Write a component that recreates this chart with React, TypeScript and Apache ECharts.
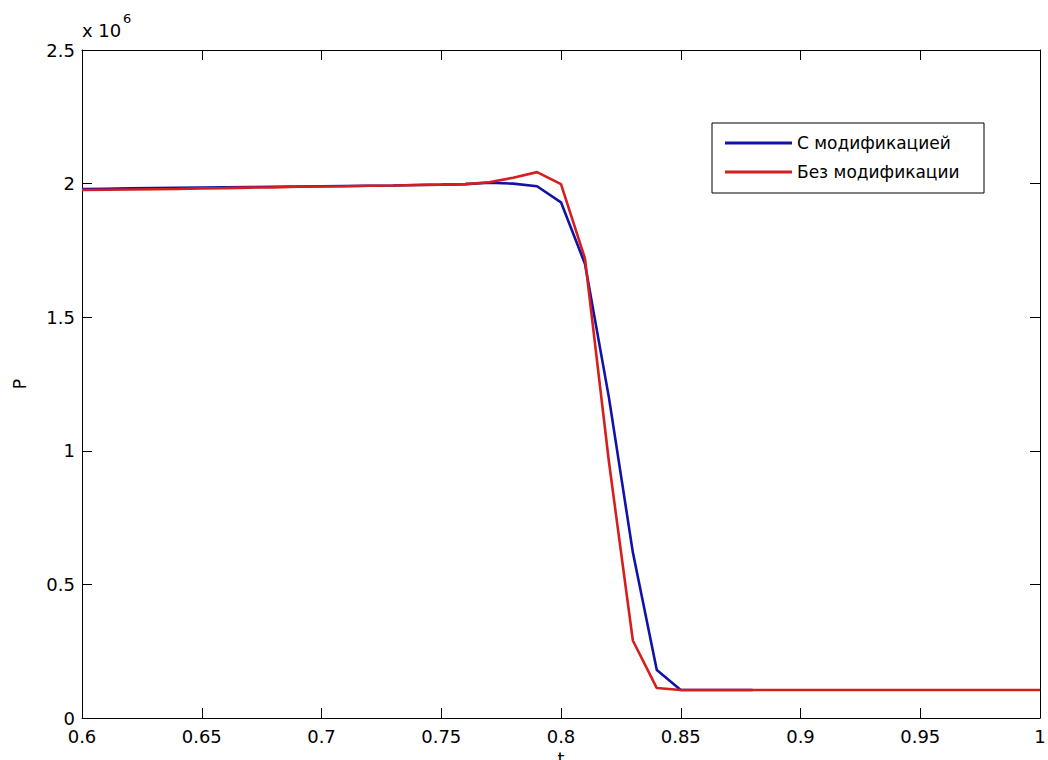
import React, { useEffect, useRef } from "react";
import * as echarts from "echarts";

const tValues = [
  0.6, 0.61, 0.62, 0.63, 0.64, 0.65, 0.66, 0.67, 0.68, 0.69,
  0.7, 0.71, 0.72, 0.73, 0.74, 0.75, 0.76, 0.77, 0.78, 0.79,
  0.8, 0.81, 0.82, 0.83, 0.84, 0.85, 0.86, 0.87, 0.88, 0.89,
  0.9, 0.91, 0.92, 0.93, 0.94, 0.95, 0.96, 0.97, 0.98, 0.99, 1.0,
];

// "С модификацией" (ends at t = 0.88)
const withModification = [
  1.980e6, 1.981e6, 1.982e6, 1.983e6, 1.984e6, 1.985e6, 1.986e6, 1.987e6, 1.988e6, 1.989e6,
  1.990e6, 1.991e6, 1.992e6, 1.993e6, 1.995e6, 1.996e6, 1.998e6, 2.003e6, 2.000e6, 1.990e6,
  1.930e6, 1.700e6, 1.200e6, 0.620e6, 0.180e6, 0.105e6, 0.105e6, 0.105e6, 0.105e6,
];

// "Без модификации"
const withoutModification = [
  1.976e6, 1.977e6, 1.978e6, 1.979e6, 1.980e6, 1.982e6, 1.983e6, 1.985e6, 1.986e6, 1.988e6,
  1.989e6, 1.990e6, 1.992e6, 1.993e6, 1.995e6, 1.996e6, 1.998e6, 2.005e6, 2.022e6, 2.043e6,
  1.998e6, 1.720e6, 0.960e6, 0.290e6, 0.112e6, 0.105e6, 0.105e6, 0.105e6, 0.105e6, 0.105e6,
  0.105e6, 0.105e6, 0.105e6, 0.105e6, 0.105e6, 0.105e6, 0.105e6, 0.105e6, 0.105e6, 0.105e6, 0.105e6,
];

const seriesNames = ["С модификацией", "Без модификации"];
const yTickScale = 1e6;

const FONT = "'DejaVu Sans', 'Liberation Sans', Arial, sans-serif";

export default function App() {
  const ref = useRef<HTMLDivElement>(null);

  useEffect(() => {
    if (!ref.current) return;
    const chart = echarts.init(ref.current, null, { renderer: "svg" });

    const blueData = withModification.map((v, i) => [tValues[i], v]);
    const redData = withoutModification.map((v, i) => [tValues[i], v]);

    const axisCommon = {
      axisLine: { show: true, onZero: false, lineStyle: { color: "#000", width: 1 } },
      axisTick: { show: true, inside: true, length: 10, lineStyle: { color: "#000" } },
      splitLine: { show: false },
    };

    chart.setOption({
      animation: false,
      backgroundColor: "#fff",
      grid: {
        left: 82,
        right: 8,
        top: 50,
        bottom: 42,
        containLabel: false,
        outerBoundsMode: "none",
      },
      textStyle: { fontFamily: FONT },
      legend: {
        orient: "vertical",
        left: 712,
        top: 123,
        padding: [10, 10, 11, 13],
        itemGap: 9,
        itemWidth: 67,
        itemHeight: 3,
        icon: "rect",
        backgroundColor: "#fff",
        borderColor: "#000",
        borderWidth: 1,
        borderRadius: 0,
        data: seriesNames,
        textStyle: { fontSize: 17, color: "#000", fontFamily: FONT, lineHeight: 20, width: 177 },
      },
      xAxis: [
        {
          type: "value",
          min: 0.6,
          max: 1,
          interval: 0.05,
          position: "bottom",
          name: "t",
          nameLocation: "middle",
          nameGap: 31,
          nameTextStyle: { fontSize: 18, color: "#000", fontFamily: FONT },
          ...axisCommon,
          axisLabel: {
            color: "#000",
            fontSize: 18,
            lineHeight: 14,
            fontFamily: FONT,
            margin: 11,
            formatter: (v: number) => String(Math.round(v * 100) / 100),
          },
        },
        {
          type: "value",
          min: 0.6,
          max: 1,
          interval: 0.05,
          position: "top",
          ...axisCommon,
          axisLabel: { show: false },
        },
      ],
      yAxis: [
        {
          type: "value",
          min: 0,
          max: 2.5e6,
          interval: 0.5e6,
          position: "left",
          name: "P",
          nameLocation: "middle",
          nameGap: 54,
          nameRotate: 90,
          nameTextStyle: { fontSize: 17, color: "#000", fontFamily: FONT },
          ...axisCommon,
          axisLabel: {
            color: "#000",
            fontSize: 18,
            lineHeight: 14,
            fontFamily: FONT,
            margin: 7,
            formatter: (v: number) => String(v / yTickScale),
          },
        },
        {
          type: "value",
          min: 0,
          max: 2.5e6,
          interval: 0.5e6,
          position: "right",
          ...axisCommon,
          axisLabel: { show: false },
        },
      ],
      graphic: [
        {
          type: "text",
          left: 82,
          top: 21,
          style: { text: "x 10", fontSize: 18, fontFamily: FONT, fill: "#000" },
        },
        {
          type: "text",
          left: 123,
          top: 12,
          style: { text: "6", fontSize: 13, fontFamily: FONT, fill: "#000" },
        },
      ],
      series: [
        {
          name: seriesNames[0],
          type: "line",
          data: blueData,
          showSymbol: false,
          symbol: "none",
          color: "#1212A8",
          lineStyle: { color: "#1212A8", width: 2.6 },
          z: 2,
        },
        {
          name: seriesNames[1],
          type: "line",
          data: redData,
          showSymbol: false,
          symbol: "none",
          color: "#D51E1E",
          lineStyle: { color: "#D51E1E", width: 2.6 },
          z: 3,
        },
      ],
    });

    return () => chart.dispose();
  }, []);

  return (
    <div
      ref={ref}
      style={{ position: "absolute", left: 0, top: 0, width: 1048, height: 760, overflow: "hidden" }}
    />
  );
}
